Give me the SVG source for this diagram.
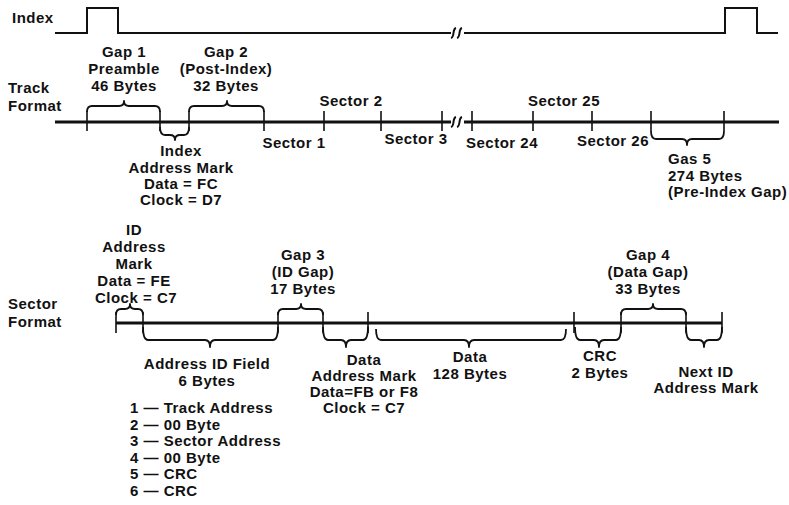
<svg xmlns="http://www.w3.org/2000/svg" width="789" height="505" viewBox="0 0 789 505">
<style>
  .t { font-family: "Liberation Sans", Arial, Helvetica, sans-serif; font-size: 15px; font-weight: bold; letter-spacing: 0.5px; fill: #111; }
  .m { text-anchor: middle; }
  .sig { fill: none; stroke: #111; stroke-width: 2; }
  .axis { fill: none; stroke: #111; stroke-width: 3; }
  .tick { fill: none; stroke: #111; stroke-width: 1.6; }
  .brace { fill: none; stroke: #111; stroke-width: 1.8; stroke-linejoin: round; }
  .brk { fill: none; stroke: #111; stroke-width: 2; }
</style>
<rect width="789" height="505" fill="#fff"/>

<!-- Index signal -->
<g id="index">
  <text class="t" x="12" y="23">Index</text>
  <path class="sig" d="M55,33 H87 V8 H118 V33 H451"/>
  <path class="sig" d="M464,33 H725 V8 H757 V33 H778"/>
  <path class="brk" d="M451,38 C455,37 452,29 456,28"/>
  <path class="brk" d="M457,38 C461,37 458,29 462,28"/>
</g>

<!-- Track format -->
<g id="track-format">
  <text class="t" x="8" y="93">Track</text>
  <text class="t" x="8" y="111">Format</text>
  <path class="axis" d="M55,122 H451 M464,122 H779"/>
  <path class="brk" d="M451,127 C455,126 452,118 456,117"/>
  <path class="brk" d="M457,127 C461,126 458,118 462,117"/>
  <path class="tick" d="M87,111 V131 M160,111 V131 M189,111 V131 M264,111 V131 M324,111 V131 M381,111 V131 M442,111 V131 M472,111 V131 M533,111 V131 M592,111 V131 M651,111 V131 M724,111 V131"/>
</g>

<g id="connectors">
  <!-- track braces -->
  <path class="brace" d="M87,112 Q87,106 92,106 H119 Q124,106 124,101 Q124,106 129,106 H155 Q160,106 160,112"/>
  <path class="brace" d="M189,112 Q189,106 194,106 H222 Q227,106 227,101 Q227,106 232,106 H259 Q264,106 264,112"/>
  <path class="brace" d="M160,127 Q160,135 165,135 H170 Q175,135 175,140 Q175,135 180,135 H184 Q189,135 189,127"/>
  <path class="brace" d="M651,131 Q651,139 656,139 H682 Q687,139 687,145 Q687,139 692,139 H719 Q724,139 724,131"/>
  <!-- sector braces above -->
  <path class="brace" d="M116,315 Q116,309 121,309 H125 Q130,309 130,304 Q130,309 135,309 H138 Q143,309 143,315"/>
  <path class="brace" d="M278,315 Q278,309 283,309 H296 Q301,309 301,304 Q301,309 306,309 H318 Q323,309 323,315"/>
  <path class="brace" d="M621,315 Q621,309 626,309 H648 Q653,309 653,304 Q653,309 658,309 H681 Q686,309 686,315"/>
  <!-- sector braces below -->
  <path class="brace" d="M143,327 Q143,340 148,340 H205 Q210,340 210,347 Q210,340 215,340 H273 Q278,340 278,327"/>
  <path class="brace" d="M323,327 Q323,340 328,340 H341 Q346,340 346,347 Q346,340 351,340 H363 Q368,340 368,327"/>
  <path class="brace" d="M376,329 Q376,340 381,340 H464 Q469,340 469,347 Q469,340 474,340 H561 Q566,340 566,329"/>
  <path class="brace" d="M575,327 Q575,340 580,340 H594 Q599,340 599,347 Q599,340 604,340 H616 Q621,340 621,327"/>
  <path class="brace" d="M686,327 Q686,340 691,340 H699 Q704,340 704,347 Q704,340 709,340 H717 Q722,340 722,327"/>
</g>

<g id="gap1">
  <text class="t m" x="124" y="57">Gap 1</text>
  <text class="t m" x="124" y="74">Preamble</text>
  <text class="t m" x="124" y="91">46 Bytes</text>
</g>
<g id="gap2">
  <text class="t m" x="226" y="57">Gap 2</text>
  <text class="t m" x="226" y="74">(Post-Index)</text>
  <text class="t m" x="226" y="91">32 Bytes</text>
</g>
<g id="index-address-mark">
  <text class="t m" x="181" y="156">Index</text>
  <text class="t m" x="181" y="173">Address Mark</text>
  <text class="t m" x="181" y="189">Data = FC</text>
  <text class="t m" x="181" y="205">Clock = D7</text>
</g>
<g id="sectors">
  <text class="t m" x="351" y="106">Sector 2</text>
  <text class="t m" x="564" y="106">Sector 25</text>
  <text class="t m" x="294" y="148">Sector 1</text>
  <text class="t m" x="416" y="144">Sector 3</text>
  <text class="t m" x="502" y="148">Sector 24</text>
  <text class="t m" x="613" y="146">Sector 26</text>
</g>
<g id="gap5">
  <text class="t" x="668" y="164">Gas 5</text>
  <text class="t" x="668" y="181">274 Bytes</text>
  <text class="t" x="668" y="197">(Pre-Index Gap)</text>
</g>

<!-- Sector format -->
<g id="sector-format">
  <text class="t" x="8" y="309">Sector</text>
  <text class="t" x="8" y="327">Format</text>
  <path class="axis" d="M116,323 H722"/>
  <path class="tick" d="M116,312 V333 M143,312 V333 M278,312 V333 M323,312 V333 M368,312 V333 M574,312 V333 M621,312 V333 M686,312 V333 M722,312 V333"/>
</g>
<g id="id-address-mark">
  <text class="t m" x="134" y="235">ID</text>
  <text class="t m" x="134" y="252">Address</text>
  <text class="t m" x="134" y="269">Mark</text>
  <text class="t m" x="134" y="286">Data = FE</text>
  <text class="t m" x="136" y="303">Clock = C7</text>
</g>
<g id="gap3">
  <text class="t m" x="303" y="260">Gap 3</text>
  <text class="t m" x="303" y="277">(ID Gap)</text>
  <text class="t m" x="303" y="294">17 Bytes</text>
</g>
<g id="gap4">
  <text class="t m" x="648" y="260">Gap 4</text>
  <text class="t m" x="648" y="277">(Data Gap)</text>
  <text class="t m" x="648" y="294">33 Bytes</text>
</g>
<g id="address-id-field">
  <text class="t m" x="207" y="369">Address ID Field</text>
  <text class="t m" x="207" y="386">6 Bytes</text>
  <text class="t" x="130" y="413">1 — Track Address</text>
  <text class="t" x="130" y="429.5">2 — 00 Byte</text>
  <text class="t" x="130" y="446">3 — Sector Address</text>
  <text class="t" x="130" y="462.5">4 — 00 Byte</text>
  <text class="t" x="130" y="479">5 — CRC</text>
  <text class="t" x="130" y="495.5">6 — CRC</text>
</g>
<g id="data-address-mark">
  <text class="t m" x="364" y="365">Data</text>
  <text class="t m" x="364" y="381">Address Mark</text>
  <text class="t m" x="364" y="397">Data=FB or F8</text>
  <text class="t m" x="364" y="413">Clock = C7</text>
</g>
<g id="data">
  <text class="t m" x="470" y="362">Data</text>
  <text class="t m" x="470" y="379">128 Bytes</text>
</g>
<g id="crc">
  <text class="t m" x="600" y="361">CRC</text>
  <text class="t m" x="600" y="378">2 Bytes</text>
</g>
<g id="next-id">
  <text class="t m" x="706" y="377">Next ID</text>
  <text class="t m" x="706" y="393">Address Mark</text>
</g>
</svg>
